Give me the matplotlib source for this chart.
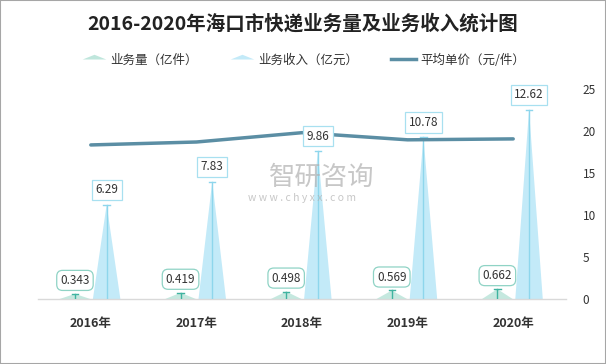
import matplotlib
matplotlib.use("Agg")
import matplotlib.pyplot as plt
from matplotlib.path import Path
from matplotlib.lines import Line2D
import numpy as np

plt.rcParams['font.family'] = ['Noto Sans CJK SC', 'DejaVu Sans']

years = ["2016年", "2017年", "2018年", "2019年", "2020年"]
volume = [0.343, 0.419, 0.498, 0.569, 0.662]      # 业务量（亿件）
revenue = [6.29, 7.83, 9.86, 10.78, 12.62]        # 业务收入（亿元）
price = [18.34, 18.69, 19.80, 18.95, 19.06]       # 平均单价（元/件）
right_ticks = [0, 5, 10, 15, 20, 25]

W, H = 606, 364
fig = plt.figure(figsize=(W / 100, H / 100), dpi=100)
fig.patch.set_facecolor('white')

L, R, B, T = 38, 566, 299, 89
ax = fig.add_axes([L / W, 1 - B / H, (R - L) / W, (B - T) / H])
ax2 = ax.twinx()

n = len(years)
x = np.arange(n)
ax.set_xlim(-0.5, n - 0.5)
ax.set_ylim(0, 14)
ax2.set_ylim(0, 25)

off = 0.15
vol_c = '#bfe6dc'
rev_c = '#c3eaf8'

for i in range(n):
    xq = x[i] - off
    hw = 0.145
    ax.fill([xq - hw, xq + hw, xq], [0, 0, volume[i]], color=vol_c, alpha=0.9, lw=0, zorder=2)
    ax.plot([xq, xq], [0, volume[i]], color='#3fb3a0', lw=1, zorder=3)
    ax.plot([xq - 0.03, xq + 0.03], [volume[i], volume[i]], color='#3fb3a0', lw=1, zorder=3)
    xr = x[i] + off
    hw = 0.13
    ax.fill([xr - hw, xr + hw, xr], [0, 0, revenue[i]], color=rev_c, lw=0, zorder=2)
    ax.plot([xr, xr], [0, revenue[i]], color='#8ed6ec', lw=1, zorder=3)
    ax.plot([xr - 0.03, xr + 0.03], [revenue[i], revenue[i]], color='#8ed6ec', lw=1, zorder=3)

ax2.plot(x, price, color='#5b8ea4', lw=2.5, solid_capstyle='round', zorder=3)

for i in range(n):
    xr = x[i] + off
    ax2.annotate(f"{revenue[i]:g}", xy=(xr, revenue[i]), xycoords=ax.transData,
                 xytext=(0, 6), textcoords='offset points', ha='center', va='bottom',
                 fontsize=8.5, color='#333333', zorder=10,
                 bbox=dict(boxstyle='square,pad=0.3', fc='white', ec='#a8e0f0', lw=0.9))
    xq = x[i] - off
    ax2.annotate(f"{volume[i]:g}", xy=(xq, volume[i]), xycoords=ax.transData,
                 xytext=(0, 5), textcoords='offset points', ha='center', va='bottom',
                 fontsize=8.5, color='#333333', zorder=10,
                 bbox=dict(boxstyle='round,pad=0.3,rounding_size=0.5', fc='white', ec='#8fd3c5', lw=0.9))

# axes styling
ax.set_xticks(x)
ax.set_xticklabels(years, fontsize=9, fontweight='bold', color='#333333')
ax.tick_params(axis='x', length=0, pad=13)
ax.set_yticks([])
for s in ['top', 'left', 'right']:
    ax.spines[s].set_visible(False)
ax.spines['bottom'].set_color('#d9d9d9')
ax.spines['bottom'].set_linewidth(1)
ax2.set_yticks(right_ticks)
ax2.set_yticklabels([str(t) for t in right_ticks], fontsize=8.5, color='#333333')
ax2.tick_params(axis='y', length=0, pad=12)
for s in ['top', 'left', 'right', 'bottom']:
    ax2.spines[s].set_visible(False)
ax.set_facecolor('none')
ax2.set_facecolor('none')

# title
fig.text(0.5, 1 - 24 / H, "2016-2020年海口市快递业务量及业务收入统计图", ha='center', va='center',
         fontsize=14, fontweight='bold', color='#222222')

# legend
tri = Path([(-1, 0), (1, 0), (0, 0.4), (-1, 0)], [Path.MOVETO, Path.LINETO, Path.LINETO, Path.CLOSEPOLY])
handles = [
    Line2D([], [], marker=tri, markersize=17, color=vol_c, lw=0, markeredgewidth=0),
    Line2D([], [], marker=tri, markersize=17, color=rev_c, lw=0, markeredgewidth=0),
    Line2D([], [], color='#5b8ea4', lw=2.5),
]
labels = ["业务量（亿件）", "业务收入（亿元）", "平均单价（元/件）"]
fig.legend(handles, labels, loc='center', bbox_to_anchor=(0.5, 1 - 60 / H), ncol=3,
           frameon=False, fontsize=9, handlelength=2.0, handletextpad=0.3, columnspacing=2.6,
           labelcolor='#333333')

# watermark
fig.text(322 / W, 1 - 177 / H, "智研咨询", ha='center', va='center', fontsize=19,
         color='#b0b0b0', alpha=0.7, zorder=0)
fig.text(302 / W, 1 - 198 / H, "w w w . c h y x x . c o m", ha='center', va='center', fontsize=7.5,
         color='#b0b0b0', alpha=0.7, zorder=0)

# border
fig.add_artist(plt.Rectangle((0, 0), 1, 1, transform=fig.transFigure, fill=False,
                             ec='#a6a6a6', lw=1.5))

fig.savefig("out.png", dpi=100)
